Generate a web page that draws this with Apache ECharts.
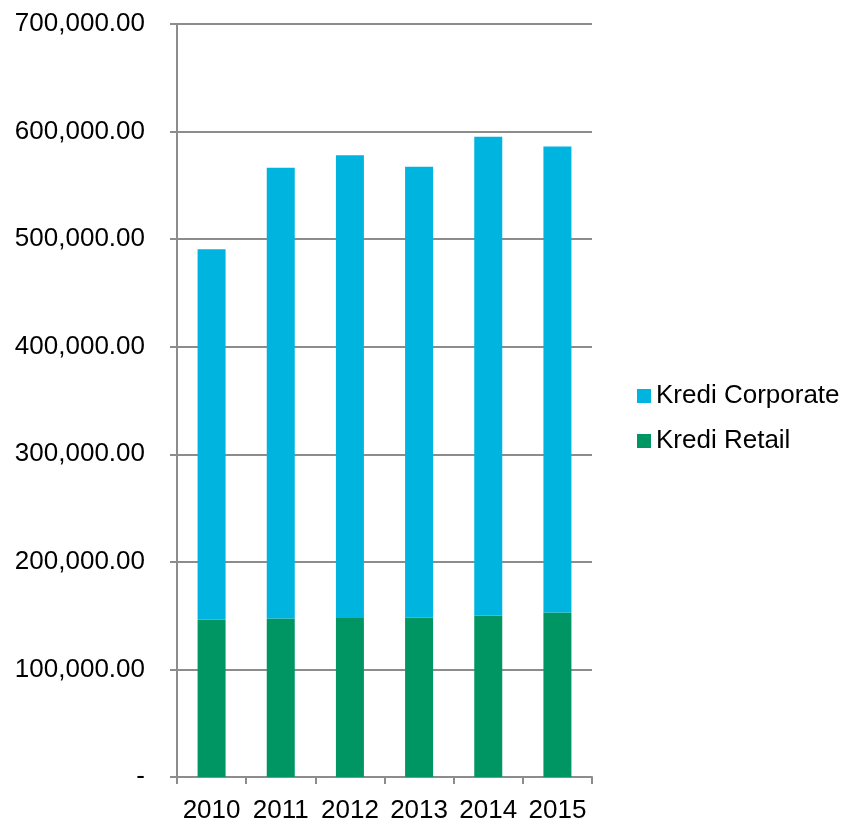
<!DOCTYPE html>
<html>
<head>
<meta charset="utf-8">
<script src="https://cdn.jsdelivr.net/npm/echarts@6/dist/echarts.min.js"></script>
<style>html,body{margin:0;padding:0;background:#fff;}#c{width:842px;height:822px;}</style>
</head>
<body>
<div id="c"></div>
<script>
var categories = ['2010', '2011', '2012', '2013', '2014', '2015'];
var krediRetail = [146200, 147400, 147800, 148300, 150200, 153000];
var krediCorporate = [344500, 418900, 430300, 418900, 445100, 433100];
var yTicks = [0, 100000, 200000, 300000, 400000, 500000, 600000, 700000];

function fmt(v) {
  if (v === 0) return '-';
  return v.toLocaleString('en-US', {minimumFractionDigits: 2, maximumFractionDigits: 2});
}

var chart = echarts.init(document.getElementById('c'), null, {renderer: 'canvas'});
var axisColor = '#8c8c8c';
var font = 'Liberation Sans, Arial, sans-serif';
chart.setOption({
  animation: false,
  backgroundColor: '#ffffff',
  grid: {left: 177, right: 250, top: 24, bottom: 45, containLabel: false, outerBoundsMode: 'none'},
  legend: {
    orient: 'vertical',
    left: 632, top: 378,
    itemWidth: 14, itemHeight: 14, itemGap: 19,
    icon: 'rect',
    data: ['Kredi Corporate', 'Kredi Retail'],
    textStyle: {fontFamily: font, fontSize: 26, color: '#000', lineHeight: 26}
  },
  xAxis: {
    type: 'category',
    data: categories,
    boundaryGap: true,
    axisLine: {lineStyle: {color: axisColor, width: 2}},
    axisTick: {show: true, length: 7, interval: 0, lineStyle: {color: axisColor, width: 2}},
    axisLabel: {fontFamily: font, fontSize: 26, color: '#000', margin: 21, interval: 0, hideOverlap: false}
  },
  yAxis: {
    type: 'value',
    min: yTicks[0], max: yTicks[yTicks.length - 1], interval: 100000,
    axisLine: {show: true, lineStyle: {color: axisColor, width: 2}},
    axisTick: {show: true, length: 7, lineStyle: {color: axisColor, width: 2}},
    splitLine: {show: true, lineStyle: {color: axisColor, width: 2}},
    axisLabel: {fontFamily: font, fontSize: 26, color: '#000', margin: 32, formatter: fmt}
  },
  series: [
    {name: 'Kredi Retail', type: 'bar', stack: 'total', data: krediRetail, barWidth: 28,
     itemStyle: {color: '#009664'}},
    {name: 'Kredi Corporate', type: 'bar', stack: 'total', data: krediCorporate, barWidth: 28,
     itemStyle: {color: '#00b4e0'}}
  ]
});
</script>
</body>
</html>
